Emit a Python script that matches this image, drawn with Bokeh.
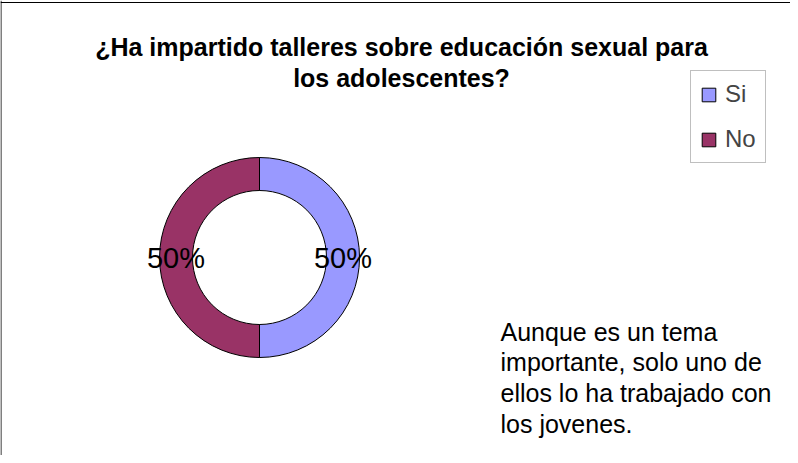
import math
from bokeh.plotting import figure
from bokeh.models import ColumnDataSource, Range1d, Span, Legend, LegendItem
from bokeh.core.properties import value
from bokeh.embed import file_html
from bokeh.resources import INLINE

# ---- data ----
categories = ["Si", "No"]
counts = [1, 1]
colors = ["#9999FF", "#993366"]
title_lines = ["¿Ha impartido talleres sobre educación sexual para", "los adolescentes?"]
note_lines = ["Aunque es un tema", "importante, solo uno de",
              "ellos lo ha trabajado con", "los jovenes."]

FONT = "Liberation Sans"
W, H = 790, 455

# ---- derived wedge geometry ----
total = float(sum(counts))
cx, cy = 259, 198
r_in, r_out = 67, 100
starts, ends, lx, ly, pct = [], [], [], [], []
cum = 0.0
for c in counts:
    a0 = math.pi / 2 - 2 * math.pi * cum / total
    cum += c
    a1 = math.pi / 2 - 2 * math.pi * cum / total
    starts.append(a0)
    ends.append(a1)
    mid = (a0 + a1) / 2
    rm = (r_in + r_out) / 2
    lx.append(cx + rm * math.cos(mid))
    ly.append(cy + rm * math.sin(mid))
    pct.append("%d%%" % round(100 * c / total))

src = ColumnDataSource(dict(cat=categories, start=starts, end=ends,
                            color=colors, lx=lx, ly=ly, pct=pct))

p = figure(width=W, height=H, output_backend="svg", toolbar_location=None,
           x_range=Range1d(0, W), y_range=Range1d(0, H), min_border=0)
p.xaxis.visible = False
p.yaxis.visible = False
p.grid.visible = False
p.outline_line_color = None
p.background_fill_color = "white"
p.border_fill_color = "white"

# chart border (left and top visible)
p.add_layout(Span(location=0.5, dimension="height", line_color="black", line_width=1))
p.add_layout(Span(location=453, dimension="width", line_color="black", line_width=1))

r = p.annular_wedge(x=cx, y=cy, inner_radius=r_in, outer_radius=r_out,
                    start_angle="start", end_angle="end", direction="clock",
                    fill_color="color", line_color="black", line_width=1,
                    source=src)

p.text(x="lx", y="ly", text="pct", source=src, text_font=value(FONT),
       text_font_size="29px", text_align="center", text_baseline="middle",
       text_color="black")

# title
tsrc = ColumnDataSource(dict(x=[401] * len(title_lines),
                             y=[409 - 31 * i for i in range(len(title_lines))],
                             t=title_lines))
p.text(x="x", y="y", text="t", source=tsrc, text_font=value(FONT),
       text_font_size="25px", text_font_style="bold", text_align="center",
       text_baseline="alphabetic", text_color="black")

# note
nsrc = ColumnDataSource(dict(x=[500] * len(note_lines),
                             y=[124 - 30.7 * i for i in range(len(note_lines))],
                             t=note_lines))
p.text(x="x", y="y", text="t", source=nsrc, text_font=value(FONT),
       text_font_size="25px", text_align="left", text_baseline="alphabetic",
       text_color="black")

legend = Legend(items=[LegendItem(label=categories[i], renderers=[r], index=i)
                       for i in range(len(categories))],
                location=(690, 292), orientation="vertical")
legend.label_text_font = FONT
legend.label_text_font_size = "24px"
legend.glyph_width = 17
legend.glyph_height = 17
legend.padding = 9
legend.spacing = 17
legend.label_standoff = 8
legend.margin = 0
legend.border_line_color = "#808080"
legend.border_line_width = 1
legend.background_fill_color = "white"
legend.background_fill_alpha = 1.0
p.add_layout(legend, "center")

open("out.html", "w").write(file_html(p, INLINE))
